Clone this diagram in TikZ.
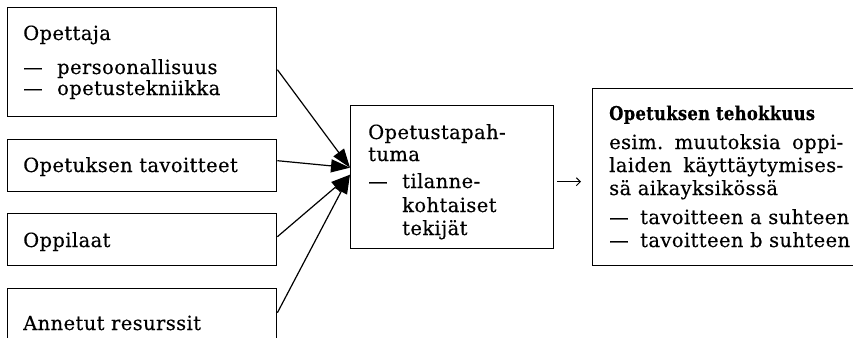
\documentclass[tikz,border=0pt]{standalone}
\usepackage{fontspec}
\setmainfont{DejaVu Serif}[LetterSpace=2,FakeBold=0.4]
\usetikzlibrary{arrows.meta}
\tikzset{
  box/.style={draw, line width=1.4pt, anchor=north west, inner sep=0pt},
  txt/.style={anchor=base west, inner sep=0pt, font=\fontsize{19.5}{22}\selectfont},
  arr/.style={line width=1.2pt, -{Triangle[length=19pt,width=13pt]}},
  small/.style={line width=1pt, -{Straight Barb[length=4pt,width=8pt]}}
}
\newcommand{\dashitem}{\makebox[34pt][l]{—}}
\begin{document}
\begin{tikzpicture}[x=1pt,y=-1pt]
\useasboundingbox (0,0) rectangle (853,337);
\clip (0,0) rectangle (853,337);
% boxes
\node[box, minimum width=269pt, minimum height=109pt] (b1) at (7,7) {};
\node[box, minimum width=269pt, minimum height=52pt] (b2) at (7,139) {};
\node[box, minimum width=269pt, minimum height=52pt] (b3) at (7,213) {};
\node[box, minimum width=269pt, minimum height=64pt] (b4) at (7,288) {};
\node[box, minimum width=203pt, minimum height=143pt] (mid) at (350,105) {};
\node[box, minimum width=290pt, minimum height=177pt] (res) at (592,88) {};
% texts
\node[txt] (t1) at (23,40) {Opettaja};
\node[txt] (t1a) at (23,74) {\dashitem persoonallisuus};
\node[txt] (t1b) at (23,95) {\dashitem opetustekniikka};
\node[txt] (t2) at (23,172) {Opetuksen tavoitteet};
\node[txt] (t3) at (23,247) {Oppilaat};
\node[txt] (t4) at (23,330) {Annetut resurssit};
\node[txt] (m1) at (368,139) {Opetustapah-};
\node[txt] (m2) at (368,161) {tuma};
\node[txt] (m3) at (368,188) {\dashitem tilanne-};
\node[txt] (m4) at (402,212) {kohtaiset};
\node[txt] (m5) at (402,235) {tekijät};
\node[txt,font=\fontsize{19}{22}\selectfont] (r1) at (609,120) {\scalebox{0.86}[1]{\textbf{Opetuksen tehokkuus}}};
\node[txt] (r2) at (609,149) {\makebox[234pt][l]{esim.\hfill muutoksia\hfill oppi-}};
\node[txt] (r3) at (609,172) {\makebox[234pt][l]{laiden\hfill käyttäytymises-}};
\node[txt] (r4) at (609,195) {sä aikayksikössä};
\node[txt] (r5) at (609,224) {\makebox[31pt][l]{—}tavoitteen a suhteen};
\node[txt] (r6) at (609,247) {\makebox[31pt][l]{—}tavoitteen b suhteen};
% connectors
\draw[arr] ([yshift=-7.5pt]b1.east) -- ([yshift=9.5pt]mid.west);
\draw[arr] ([yshift=5pt]b2.east) -- ([yshift=9.5pt]mid.west);
\draw[arr] ([yshift=3pt]b3.east) -- ([yshift=2.5pt]mid.west);
\draw[arr] ([yshift=8pt]b4.east) -- ([yshift=2.5pt]mid.west);
\draw[small] ([xshift=3pt,yshift=-4.5pt]mid.east) -- ([xshift=-11pt,yshift=-4.5pt]res.west);
\end{tikzpicture}
\end{document}
